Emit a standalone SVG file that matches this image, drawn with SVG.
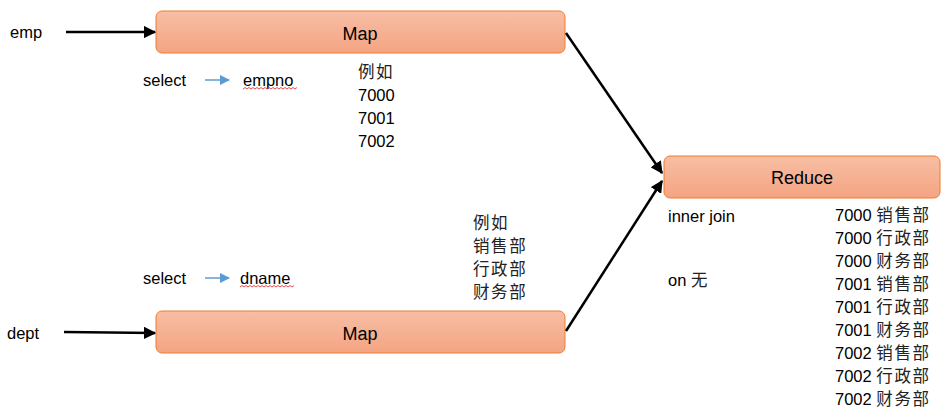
<svg xmlns="http://www.w3.org/2000/svg" width="951" height="420" viewBox="0 0 951 420">
<defs>
<linearGradient id="g" x1="0" y1="0" x2="0" y2="1">
<stop offset="0" stop-color="#f7bea5"/>
<stop offset="1" stop-color="#f4a481"/>
</linearGradient>
<marker id="ah" viewBox="0 0 10 10" refX="9" refY="5" markerWidth="5" markerHeight="5" orient="auto" markerUnits="strokeWidth">
<path d="M0,0 L10,5 L0,10 z" fill="#000"/>
</marker>
<marker id="bh" viewBox="0 0 10 10" refX="9" refY="5" markerWidth="7" markerHeight="7" orient="auto" markerUnits="strokeWidth">
<path d="M0,0 L10,5 L0,10 z" fill="#5b9bd5"/>
</marker>
</defs>
<style>
.box{fill:url(#g);stroke:#ed7d31;stroke-width:1}
.lbl{font-family:"Liberation Sans",Arial,sans-serif;font-size:18px;fill:#000;text-anchor:middle}
.t{font-family:"Liberation Sans","Noto Sans CJK SC",sans-serif;font-size:16.5px;fill:#000}
.n{font-family:"Liberation Sans","Noto Sans CJK SC",sans-serif;font-size:16.5px;fill:#000}
.k{font-family:"Noto Sans CJK SC",sans-serif;letter-spacing:1.6px;fill:#222}
.c{stroke:#000;stroke-width:2.5;fill:none}
.b{stroke:#5b9bd5;stroke-width:1.5;fill:none}
.w{stroke:#e02020;stroke-width:0.8;fill:none}
</style>
<g id="map1">
<rect class="box" x="156" y="11" width="409" height="42" rx="6"/>
<text class="lbl" x="360" y="40">Map</text>
</g>
<g id="map2">
<rect class="box" x="156" y="311" width="409" height="42" rx="6"/>
<text class="lbl" x="360" y="340">Map</text>
</g>
<g id="reduce">
<rect class="box" x="664" y="156" width="276" height="42" rx="6"/>
<text class="lbl" x="802" y="184">Reduce</text>
</g>
<g id="connectors">
<line class="c" x1="66" y1="32" x2="155" y2="32" marker-end="url(#ah)"/>
<line class="c" x1="64" y1="332" x2="155" y2="333" marker-end="url(#ah)"/>
<line class="c" x1="566" y1="33" x2="662" y2="173" marker-end="url(#ah)"/>
<line class="c" x1="566" y1="331" x2="662" y2="181" marker-end="url(#ah)"/>
<line class="b" x1="205" y1="80" x2="229" y2="80" marker-end="url(#bh)"/>
<line class="b" x1="205" y1="278" x2="229" y2="278" marker-end="url(#bh)"/>
</g>
<g id="labels">
<text class="t" x="10" y="38">emp</text>
<text class="t" x="7" y="339">dept</text>
<text class="t" x="143" y="86">select</text>
<text class="t" x="243" y="86">empno</text>
<path class="w" d="M243,89 l2,-1.5 l2,1.5 l2,-1.5 l2,1.5 l2,-1.5 l2,1.5 l2,-1.5 l2,1.5 l2,-1.5 l2,1.5 l2,-1.5 l2,1.5 l2,-1.5 l2,1.5 l2,-1.5 l2,1.5 l2,-1.5 l2,1.5 l2,-1.5 l2,1.5 l2,-1.5 l2,1.5 l2,-1.5 l2,1.5 l2,-1.5 l2,1.5 l2,-1.5"/>
<text class="t" x="143" y="284">select</text>
<text class="t" x="240" y="284">dname</text>
<path class="w" d="M240,287 l2,-1.5 l2,1.5 l2,-1.5 l2,1.5 l2,-1.5 l2,1.5 l2,-1.5 l2,1.5 l2,-1.5 l2,1.5 l2,-1.5 l2,1.5 l2,-1.5 l2,1.5 l2,-1.5 l2,1.5 l2,-1.5 l2,1.5 l2,-1.5 l2,1.5 l2,-1.5 l2,1.5 l2,-1.5 l2,1.5 l2,-1.5 l2,1.5 l2,-1.5"/>
<text class="n" x="358" y="78"><tspan class="k">例如</tspan></text>
<text class="n" x="358" y="101">7000</text>
<text class="n" x="358" y="124">7001</text>
<text class="n" x="358" y="147">7002</text>
<text class="n" x="473" y="229"><tspan class="k">例如</tspan></text>
<text class="n" x="473" y="252"><tspan class="k">销售部</tspan></text>
<text class="n" x="473" y="275"><tspan class="k">行政部</tspan></text>
<text class="n" x="473" y="298"><tspan class="k">财务部</tspan></text>
<text class="t" x="668" y="222">inner join</text>
<text class="t" x="668" y="286">on <tspan class="k">无</tspan></text>
<text class="n" x="835" y="221">7000 <tspan class="k">销售部</tspan></text>
<text class="n" x="835" y="244">7000 <tspan class="k">行政部</tspan></text>
<text class="n" x="835" y="267">7000 <tspan class="k">财务部</tspan></text>
<text class="n" x="835" y="290">7001 <tspan class="k">销售部</tspan></text>
<text class="n" x="835" y="313">7001 <tspan class="k">行政部</tspan></text>
<text class="n" x="835" y="336">7001 <tspan class="k">财务部</tspan></text>
<text class="n" x="835" y="359">7002 <tspan class="k">销售部</tspan></text>
<text class="n" x="835" y="382">7002 <tspan class="k">行政部</tspan></text>
<text class="n" x="835" y="405">7002 <tspan class="k">财务部</tspan></text>
</g>
</svg>
